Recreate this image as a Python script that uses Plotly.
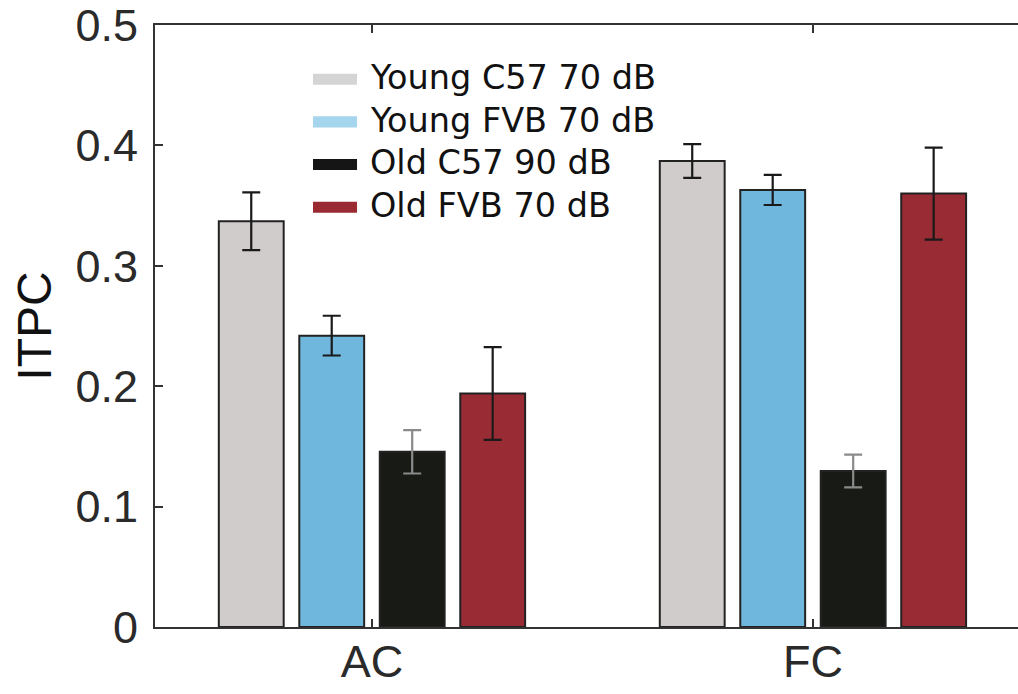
import plotly.graph_objects as go

categories = ["AC", "FC"]
series_names = ["Young C57 70 dB", "Young FVB 70 dB", "Old C57 90 dB", "Old FVB 70 dB"]
young_c57 = [0.337, 0.387]
young_c57_err = [0.024, 0.014]
young_fvb = [0.242, 0.363]
young_fvb_err = [0.0165, 0.0125]
old_c57 = [0.1455, 0.1296]
old_c57_err = [0.018, 0.0136]
old_fvb = [0.194, 0.360]
old_fvb_err = [0.0385, 0.0382]
y_ticks = [0, 0.1, 0.2, 0.3, 0.4, 0.5]
y_tick_labels = ["0", "0.1", "0.2", "0.3", "0.4", "0.5"]

bar_colors = ["#D0CCCB", "#6FB7DD", "#181A16", "#992B34"]
legend_colors = ["#D4D4D4", "#A6D5EE", "#151515", "#9A2A31"]
err_colors = ["#1a1a1a", "#1a1a1a", "#8a8a8a", "#1a1a1a"]
values = [young_c57, young_fvb, old_c57, old_fvb]
errors = [young_c57_err, young_fvb_err, old_c57_err, old_fvb_err]

fig = go.Figure()
for name, vals, errs, c, ec in zip(series_names, values, errors, bar_colors, err_colors):
    fig.add_trace(go.Bar(
        x=categories, y=vals, name=name, showlegend=False,
        marker=dict(color=c, line=dict(color="#222222", width=2)),
        error_y=dict(type="data", array=errs, visible=True, color=ec, thickness=2.2, width=9),
    ))

# legend drawn as swatches + text rows (paper coordinates)
leg_x0, leg_x1, leg_text_x = 0.1831, 0.2341, 0.2468
leg_top, leg_step, sw_half = 0.910, 0.0709, 0.0092
for i, (name, lc) in enumerate(zip(series_names, legend_colors)):
    yc = leg_top - i * leg_step
    fig.add_shape(type="rect", xref="paper", yref="paper",
                  x0=leg_x0, x1=leg_x1, y0=yc - sw_half, y1=yc + sw_half,
                  fillcolor=lc, line=dict(width=0))
    fig.add_annotation(xref="paper", yref="paper", x=leg_text_x, y=yc + 0.003,
                       text=name, showarrow=False, xanchor="left", yanchor="middle",
                       font=dict(family="DejaVu Sans", size=33.5, color="#111111"))

fig.update_layout(
    width=1018, height=694,
    margin=dict(l=155, r=0, t=25, b=67, autoexpand=False),
    paper_bgcolor="white", plot_bgcolor="white",
    barmode="group", bargap=0.27, bargroupgap=0.194,
    showlegend=False,
    font=dict(family="Liberation Sans, Arial", color="#2a2a2a"),
    xaxis=dict(
        range=[-0.492, 1.465], showline=True, linecolor="#333333", linewidth=2,
        mirror="ticks", ticks="inside", ticklen=8, tickwidth=1.5, tickcolor="#333333",
        tickfont=dict(size=45, color="#2a2a2a"), showgrid=False, zeroline=False,
        automargin=False, ticklabelstandoff=-6, ticklabeloverflow="allow",
    ),
    yaxis=dict(
        range=[0, 0.5], tickvals=y_ticks, ticktext=y_tick_labels,
        showline=True, linecolor="#333333", linewidth=2,
        ticks="inside", ticklen=8, tickwidth=1.5, tickcolor="#333333",
        tickfont=dict(size=45, color="#2a2a2a"), showgrid=False, zeroline=False,
        automargin=False, ticklabelstandoff=6, ticklabeloverflow="allow",
        title=dict(text="ITPC", font=dict(size=48, color="#111111"), standoff=9),
    ),
)

fig.write_html("out.html")
